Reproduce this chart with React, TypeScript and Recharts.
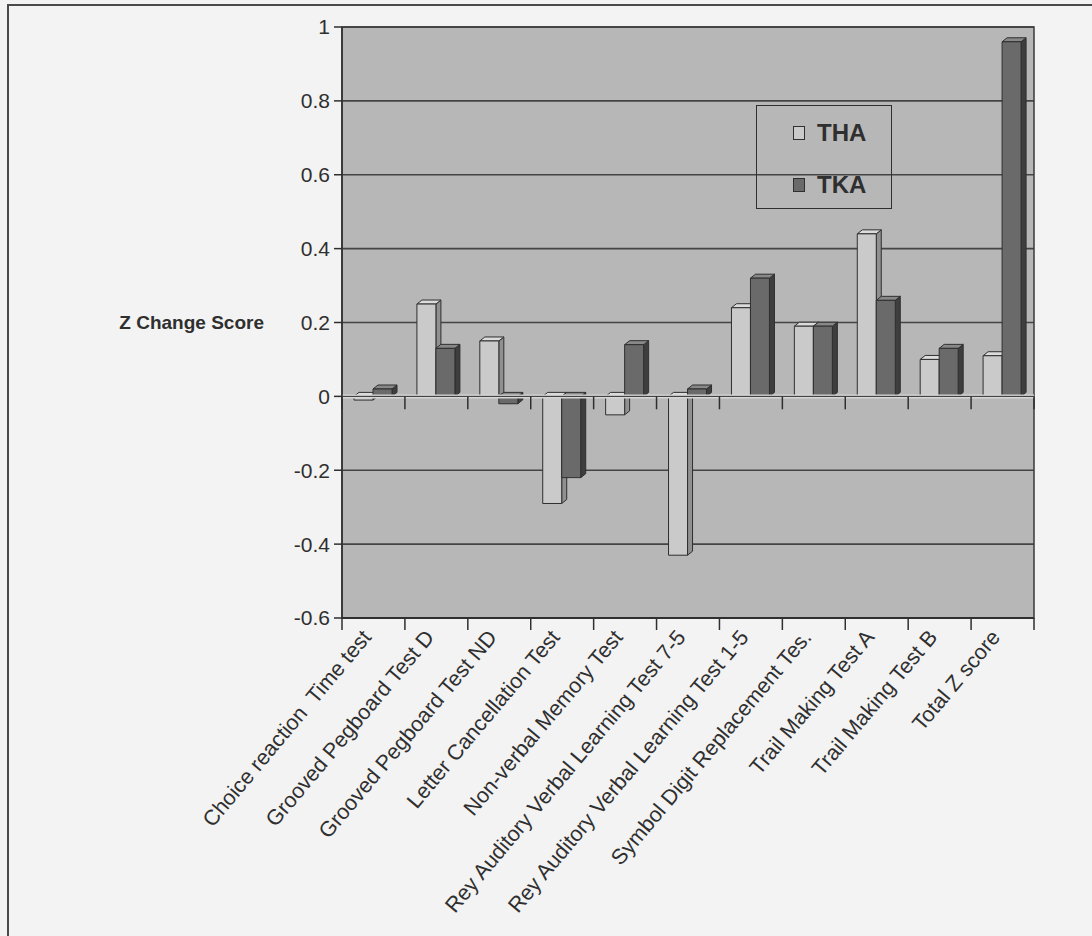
import React from 'react';
import {
  BarChart,
  Bar,
  XAxis,
  YAxis,
  CartesianGrid,
  ReferenceLine,
  ReferenceArea,
  Legend,
} from 'recharts';

// Test names along the category axis
const categories = [
  'Choice reaction  Time test',
  'Grooved Pegboard Test D',
  'Grooved Pegboard Test ND',
  'Letter Cancellation Test',
  'Non-verbal Memory Test',
  'Rey Auditory Verbal Learning Test 7-5',
  'Rey Auditory Verbal Learning Test 1-5',
  'Symbol Digit Replacement Tes.',
  'Trail Making Test A',
  'Trail Making Test B',
  'Total Z score',
];

// Z change scores per group
const thaValues = [-0.01, 0.25, 0.15, -0.29, -0.05, -0.43, 0.24, 0.19, 0.44, 0.1, 0.11];
const tkaValues = [0.02, 0.13, -0.02, -0.22, 0.14, 0.02, 0.32, 0.19, 0.26, 0.13, 0.96];

const yTicks = [-0.6, -0.4, -0.2, 0, 0.2, 0.4, 0.6, 0.8, 1];
// tick marks sit on category boundaries, labels on category centres
const categoryBoundaries = categories.map((_, i) => i).concat(categories.length);
const categoryCentres = categories.map((_, i) => i + 0.5);
const bottomTicks = [...categoryBoundaries, ...categoryCentres].sort((a, b) => a - b);

const data = categories.map((name, i) => ({
  name,
  pos: i + 0.5,
  THA: thaValues[i],
  TKA: tkaValues[i],
}));

const FONT = '"Liberation Sans", Arial, sans-serif';
const INK = '#2f2f2f';
const PLOT_FILL = '#b7b7b7';

const seriesStyle: Record<string, { front: string; side: string; top: string }> = {
  THA: { front: '#cacaca', side: '#909090', top: '#dcdcdc' },
  TKA: { front: '#6a6a6a', side: '#3e3e3e', top: '#888888' },
};

// Column with a shallow extruded side and top face
const makeColumn = (key: string) => (props: any) => {
  const { x, y, width, height } = props;
  if (x == null || y == null) return null;
  const c = seriesStyle[key];
  const y0 = Math.min(y, y + height);
  const y1 = Math.max(y, y + height);
  const dx = 5;
  const dy = 4;
  const r = x + width;
  return (
    <g stroke={INK} strokeWidth={1} strokeLinejoin="round">
      <polygon
        points={`${r},${y0} ${r + dx},${y0 - dy} ${r + dx},${y1 - dy} ${r},${y1}`}
        fill={c.side}
      />
      <polygon
        points={`${x},${y0} ${x + dx},${y0 - dy} ${r + dx},${y0 - dy} ${r},${y0}`}
        fill={c.top}
      />
      <rect x={x} y={y0} width={width} height={Math.max(y1 - y0, 0.5)} fill={c.front} />
    </g>
  );
};

// Boundary values get a tick mark, centre values get the rotated test name
const BottomTick = (props: any) => {
  const { x, y, payload } = props;
  const v = Number(payload.value);
  if (Number.isInteger(v)) {
    return <line x1={x} y1={y} x2={x} y2={y + 12} stroke={INK} strokeWidth={1.5} />;
  }
  const label = categories[Math.floor(v)];
  return (
    <g transform={`translate(${x - 7},${y + 15})`}>
      <text
        x={0}
        y={0}
        dy="0.35em"
        textAnchor="end"
        transform="rotate(-50)"
        fill={INK}
        fontSize={21.5}
        fontFamily={FONT}
        style={{ whiteSpace: 'pre' }}
      >
        {label}
      </text>
    </g>
  );
};

const LegendBox = (props: any) => {
  const items = (props.payload || []) as any[];
  return (
    <div
      style={{
        width: 136,
        height: 104,
        border: `1.5px solid ${INK}`,
        boxSizing: 'border-box',
        paddingTop: 14,
        fontFamily: FONT,
      }}
    >
      {items.map((it) => (
        <div
          key={it.value}
          style={{ display: 'flex', alignItems: 'center', height: 26, marginBottom: 26, paddingLeft: 36 }}
        >
          <span
            style={{
              display: 'inline-block',
              width: 10,
              height: 12,
              background: seriesStyle[it.value].front,
              border: `1.5px solid ${INK}`,
              marginRight: 12,
            }}
          />
          <span style={{ fontSize: 24, fontWeight: 700, color: INK }}>{it.value}</span>
        </div>
      ))}
    </div>
  );
};

export default function App() {
  return (
    <div
      style={{
        position: 'absolute',
        left: 0,
        top: 0,
        width: 1092,
        height: 936,
        background: '#f3f3f3',
        overflow: 'hidden',
      }}
    >
      <div
        style={{
          position: 'absolute',
          left: 7,
          top: 4,
          width: 1100,
          height: 940,
          borderTop: '2px solid #4a4a4a',
          borderLeft: '2px solid #4a4a4a',
        }}
      />
      <div style={{ position: 'absolute', left: 0, top: 0 }}>
        <BarChart
          width={1092}
          height={936}
          data={data}
          margin={{ top: 27, right: 58, bottom: 0, left: 258 }}
          barGap={0}
          barSize={19}
        >
          <CartesianGrid horizontal vertical={false} fill={PLOT_FILL} stroke="#444444" strokeWidth={1.6} xAxisId="num" />
          <XAxis xAxisId="cat" dataKey="name" hide height={0} />
          <XAxis
            xAxisId="num"
            type="number"
            dataKey="pos"
            domain={[0, categories.length]}
            ticks={bottomTicks}
            interval={0}
            tick={<BottomTick />}
            tickLine={false}
            tickSize={0}
            tickMargin={0}
            height={318}
            axisLine={{ stroke: INK, strokeWidth: 2 }}
          />
          <YAxis
            domain={[-0.6, 1]}
            ticks={yTicks}
            interval={0}
            width={84}
            tickSize={8}
            tickMargin={4}
            axisLine={{ stroke: INK, strokeWidth: 1.5 }}
            tickLine={{ stroke: INK, strokeWidth: 1.5 }}
            tick={{ fill: INK, fontSize: 21, fontFamily: FONT }}
            label={{
              value: 'Z Change Score',
              position: 'left',
              offset: -6,
              style: { fill: INK, fontSize: 19, fontWeight: 700, fontFamily: FONT },
            }}
          />
          <ReferenceArea
            xAxisId="num"
            x1={0}
            x2={categories.length}
            y1={-0.6}
            y2={1}
            fill="none"
            stroke="#3a3a3a"
            strokeWidth={1.5}
            ifOverflow="extendDomain"
          />
          <ReferenceLine xAxisId="num" y={0} stroke="#d6d6d6" strokeWidth={4} />
          <ReferenceLine xAxisId="num" y={0} stroke={INK} strokeWidth={1} />
          {categoryBoundaries.map((b) => (
            <ReferenceLine
              key={b}
              xAxisId="num"
              segment={[
                { x: b, y: 0 },
                { x: b, y: -0.035 },
              ]}
              stroke={INK}
              strokeWidth={1.5}
            />
          ))}
          <Legend
            layout="vertical"
            align="center"
            verticalAlign="middle"
            wrapperStyle={{ left: 756, top: 105, width: 136, height: 104 }}
            content={<LegendBox />}
          />
          <Bar xAxisId="cat" dataKey="THA" isAnimationActive={false} shape={makeColumn('THA')} />
          <Bar xAxisId="cat" dataKey="TKA" isAnimationActive={false} shape={makeColumn('TKA')} />
        </BarChart>
      </div>
    </div>
  );
}
